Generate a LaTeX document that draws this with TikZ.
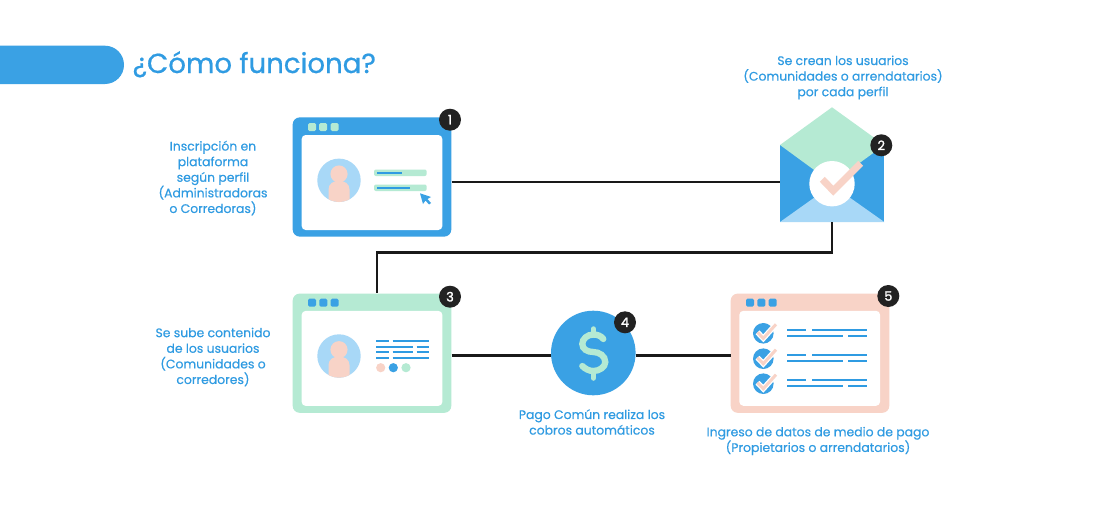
\documentclass[tikz,border=0pt]{standalone}
\usepackage{fontspec}
\setmainfont{Poppins}[FakeBold=0.35]
\newfontfamily\badgefont{Poppins}[FakeBold=1.5]
\definecolor{cblue}{HTML}{3AA1E4}
\definecolor{ctext}{HTML}{2F9BE2}
\definecolor{cgreen}{HTML}{B5EAD3}
\definecolor{cpink}{HTML}{F8D3C7}
\definecolor{clight}{HTML}{A8D8F7}
\definecolor{cdark}{HTML}{222222}
\newcommand\personicon[2]{%
  \begin{scope}[shift={(#1,#2)}]
    \fill[clight] (0,0) circle (21.7);
    \begin{scope}
      \clip (0,0) circle (21.7);
      \fill[cpink] (-10.5,25) -- (-10.5,9) .. controls (-10.5,3) and (-5,0.5) .. (0,0.5) .. controls (5,0.5) and (10.5,3) .. (10.5,9) -- (10.5,25) -- cycle;
    \end{scope}
    \fill[cpink] (0,-6.3) circle (8.6);
  \end{scope}}
\newcommand\threedots[4]{%
  \fill[#4,rounded corners=1.5] (#1-4,#3-4) rectangle (#1+4,#3+4);
  \fill[#4,rounded corners=1.5] (#2-4,#3-4) rectangle (#2+4,#3+4);}
\newcommand\checkrow[1]{%
  \fill[cblue] (763.3,#1) circle (10.3);
  \draw[white,line width=5.5] (757.5,#1-1) -- (763.3,#1+5) -- (776,#1-9);
  \draw[cpink,line width=3] (757.5,#1-1) -- (763.3,#1+5) -- (776,#1-9);
  \draw[thinline] (787.3,#1-3.3) -- (806,#1-3.3) (812,#1-3.3) -- (867,#1-3.3);
  \draw[thinline] (787.3,#1+2.4) -- (842.7,#1+2.4) (848,#1+2.4) -- (867,#1+2.4);}
\tikzset{
  x=1pt,y=-1pt,
  frame/.style={minimum width=158.6pt,minimum height=119.2pt,rounded corners=7pt,inner sep=0pt},
  pane/.style={fill=white,minimum width=140.7pt,minimum height=95pt,rounded corners=4pt,inner sep=0pt},
  badge/.style={circle,fill=cdark,text=white,minimum size=22pt,inner sep=0pt,font=\fontsize{13}{13}\selectfont\badgefont},
  link/.style={draw=black!90,line width=2.4pt},
  caption/.style={text=ctext,align=center,inner sep=0pt,font=\fontsize{12.4}{15.6}\selectfont},
  thinline/.style={draw=ctext,line width=2pt},
}
\begin{document}
\begin{tikzpicture}
\useasboundingbox (0,0) rectangle (1098,509);
\fill[white] (0,0) rectangle (1098,509);
% title
\fill[cblue] (0,45.7) -- (105,45.7) arc[start angle=90,end angle=-90,x radius=19,y radius=-19.15] -- (0,84) -- cycle;
\node[anchor=base west,inner sep=0pt,text=ctext,font=\fontsize{27.6}{28}\selectfont\addfontfeature{FakeBold=0.7}] (title) at (132.5,73) {¿Cómo funciona?};
% connectors are drawn after shapes are placed
\node[frame,fill=cblue] (win1) at (372,177) {};
\node[pane] (pane1) at (372,182.5) {};
\threedots{312}{323}{127}{cgreen}
\fill[cgreen,rounded corners=1.5] (330.5,123) rectangle (338.5,131);
\personicon{339}{180.3}
\fill[cgreen,rounded corners=2] (374,169.5) rectangle (426.7,176);
\fill[cgreen,rounded corners=2] (374,184.5) rectangle (426.7,191);
\draw[thinline] (377,172.7) -- (402,172.7);
\draw[thinline] (377,187.7) -- (410,187.7);
\fill[cblue] (420,193.3) -- (431,197) -- (427.5,199) -- (431,203) -- (429,204.5) -- (425.5,200.5) -- (423,204) -- cycle;
% envelope
\node[minimum width=104.3pt,minimum height=77pt,inner sep=0pt] (env) at (832.1,183.5) {};
\fill[cblue] (780,145) rectangle (884.3,222);
\fill[cgreen] (780,145) -- (832,107.3) -- (884.3,145) -- (832,183) -- cycle;
\fill[clight] (780,222) -- (832,185) -- (884.3,222) -- cycle;
\fill[white] (832,183.7) circle (22.7);
\draw[cpink,line width=7pt] (822.3,179.3) -- (833.3,190.7) -- (860.7,163.3);
% window 3
\node[frame,fill=cgreen] (win3) at (372,353.2) {};
\node[pane] (pane3) at (372,358.4) {};
\threedots{312}{323.3}{302.7}{cblue}
\fill[cblue,rounded corners=1.5] (330.7,298.7) rectangle (338.7,306.7);
\personicon{339}{356}
\draw[thinline] (376,341.3) -- (388.7,341.3) (392.7,341.3) -- (429,341.3);
\draw[thinline] (376,347) -- (412.7,347) (416.7,347) -- (429,347);
\draw[thinline] (376,352.3) -- (388.7,352.3) (392.7,352.3) -- (412.7,352.3) (416.7,352.3) -- (429,352.3);
\draw[thinline] (376,358) -- (388.7,358) (392.7,358) -- (429,358);
\fill[cpink] (380.7,367.7) circle (4.6);
\fill[cblue] (393.3,367.7) circle (4.6);
\fill[cgreen] (406,367.7) circle (4.6);
% coin
\node[circle,fill=cblue,minimum size=84.6pt,inner sep=0pt] (coin) at (593.3,353) {};
\begin{scope}[shift={(593.3,353)}]
  \draw[cgreen,line width=6.3pt,line cap=round] (10,-14) .. controls (8,-17) and (4,-18.5) .. (0,-18.5) .. controls (-6,-18.5) and (-11,-14) .. (-11,-9) .. controls (-11,-4) and (-6,-1) .. (0,-1) .. controls (6,-1) and (12,3) .. (12,9) .. controls (12,14) and (6,18) .. (0,18) .. controls (-4,18) and (-8,16) .. (-11,13);
  \draw[cgreen,line width=5.5pt,line cap=round] (0,-24) -- (0,-18) (0,18) -- (0,25);
\end{scope}
% window 5
\node[frame,fill=cpink] (win5) at (810,353.2) {};
\node[pane] (pane5) at (809.7,358.3) {};
\threedots{750}{761.3}{302.7}{cblue}
\fill[cblue,rounded corners=1.5] (768.7,298.7) rectangle (776.7,306.7);
\checkrow{333.3}
\checkrow{358.7}
\checkrow{383.7}
% connectors
\coordinate (bend) at (376.7,252.3);
\draw[link] ([yshift=-4.7pt]win1.east) -- ([yshift=1.8pt]env.west);
\draw[link] (env.south) |- (bend) -- ([xshift=4.7pt]win3.north);
\draw[link] ([yshift=-2.1pt]win3.east) -- ([yshift=-2.3pt]coin.west);
\draw[link] ([yshift=-2.3pt]coin.east) -- ([yshift=-2.1pt]win5.west);
% badges
\node[badge] (b1) at (450,119.7) {1};
\node[badge] (b2) at (881.3,145.3) {2};
\node[badge] (b3) at (450,296.7) {3};
\node[badge] (b4) at (625,322.3) {4};
\node[badge] (b5) at (888.3,296) {5};
% captions
\node[caption] (c1) at (213,178) {Inscripción en\\plataforma\\según perfil\\(Administradoras\\o Corredoras)};
\node[caption] (c2) at (843,77.5) {Se crean los usuarios\\(Comunidades o arrendatarios)\\por cada perfil};
\node[caption] (c3) at (213,357) {Se sube contenido\\de los usuarios\\(Comunidades o\\corredores)};
\node[caption] (c4) at (592,422) {Pago Común realiza los\\cobros automáticos};
\node[caption] (c5) at (818,441) {Ingreso de datos de medio de pago\\(Propietarios o arrendatarios)};
\end{tikzpicture}
\end{document}
